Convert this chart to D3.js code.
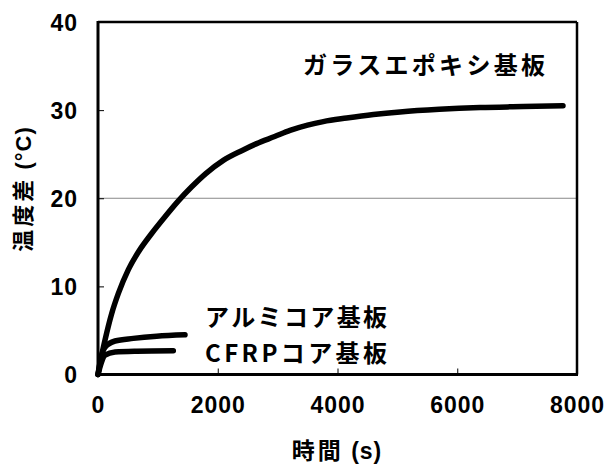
<!DOCTYPE html>
<html><head><meta charset="utf-8">
<script src="https://cdn.jsdelivr.net/npm/d3@7"></script>
<style>body{margin:0;background:#fff}</style>
</head><body>
<svg id="c" width="606" height="466"></svg>
<script>
const xTicks = [0, 2000, 4000, 6000, 8000];
const yTicks = [0, 10, 20, 30, 40];
const glassT = [0, 50, 117, 228, 340, 507, 674, 896, 1119, 1342, 1565, 1800, 2093, 2400, 2650, 2950, 3207, 3500, 3763, 4153, 4600, 5044, 5700, 6380, 7100, 7766];
const glassV = [0, 1.8, 3.9, 6.9, 9.2, 11.9, 13.9, 16.0, 17.9, 19.7, 21.3, 22.8, 24.3, 25.4, 26.2, 27.0, 27.7, 28.3, 28.7, 29.1, 29.5, 29.8, 30.1, 30.3, 30.4, 30.5];
const aluT = [0, 40, 117, 284, 590, 980, 1453];
const aluV = [0, 1.6, 3.1, 3.8, 4.1, 4.35, 4.5];
const cfrpT = [0, 40, 117, 284, 646, 1258];
const cfrpV = [0, 1.0, 2.2, 2.55, 2.65, 2.7];
const labels = ["ガラスエポキシ基板", "アルミコア基板", "CFRPコア基板"];
const xTitle = ["時間", " (s)"];
const yTitle = ["温度差", " (°C)"];

const svg = d3.select("#c");
const L = 98, R = 577, T = 22, B = 374.5;
const x = d3.scaleLinear().domain([0, 8000]).range([L, R]);
const y = d3.scaleLinear().domain([0, 40]).range([B, T]);
const num = "'Liberation Sans', Arial, sans-serif";
const jp = "'Noto Sans CJK JP', sans-serif";

// gridline at 20
svg.append("line").attr("x1", L).attr("x2", R).attr("y1", y(20)).attr("y2", y(20))
  .attr("stroke", "#888").attr("stroke-width", 1);

// axes with inward ticks
const gx = svg.append("g").attr("transform", `translate(0,${B})`)
  .call(d3.axisBottom(x).tickValues(xTicks).tickSize(-6).tickFormat(d => d).tickPadding(22));
gx.select(".domain").remove();
gx.selectAll("line").attr("stroke", "#000").attr("stroke-width", 1);
gx.selectAll("text").attr("font-family", num).attr("font-weight", "bold").attr("font-size", 23)
  .attr("letter-spacing", 1).attr("fill", "#000");

const gy = svg.append("g").attr("transform", `translate(${L},0)`)
  .call(d3.axisLeft(y).tickValues(yTicks).tickSize(-6).tickPadding(20));
gy.select(".domain").remove();
gy.selectAll("line").attr("stroke", "#000").attr("stroke-width", 1);
gy.selectAll("text").attr("font-family", num).attr("font-weight", "bold").attr("font-size", 23)
  .attr("letter-spacing", 1).attr("fill", "#000").attr("dy", "0.36em");

// frame
svg.append("line").attr("x1", L).attr("x2", R).attr("y1", T).attr("y2", T).attr("stroke", "#000").attr("stroke-width", 2.5);
svg.append("line").attr("x1", R).attr("x2", R).attr("y1", T).attr("y2", B).attr("stroke", "#000").attr("stroke-width", 2.5);
svg.append("line").attr("x1", L).attr("x2", L).attr("y1", T - 1).attr("y2", B + 1.5).attr("stroke", "#000").attr("stroke-width", 3);
svg.append("line").attr("x1", L - 1.5).attr("x2", R + 1).attr("y1", B).attr("y2", B).attr("stroke", "#000").attr("stroke-width", 3);

// curves
const line = d3.line().x(d => x(d[0])).y(d => y(d[1])).curve(d3.curveMonotoneX);
[[glassT, glassV], [aluT, aluV], [cfrpT, cfrpV]].forEach(([t, v]) => {
  svg.append("path").datum(t.map((d, i) => [d, v[i]])).attr("d", line)
    .attr("fill", "none").attr("stroke", "#000").attr("stroke-width", 5.5)
    .attr("stroke-linecap", "round").attr("stroke-linejoin", "round");
});

// labels
const lab = [[303, 74, 242], [205, 326, 182], [205, 362, 182]];
labels.forEach((s, i) => {
  svg.append("text").attr("x", lab[i][0]).attr("y", lab[i][1]).text(s)
    .attr("font-family", jp).attr("font-weight", "bold").attr("font-size", 24)
    .attr("textLength", lab[i][2]).attr("lengthAdjust", "spacing").attr("fill", "#000");
});

function title(sel, parts) {
  sel.append("tspan").text(parts[0]).attr("font-family", jp).attr("letter-spacing", 3);
  sel.append("tspan").text(parts[1]).attr("font-family", num).attr("letter-spacing", 1);
}
const xt = svg.append("text").attr("x", 337).attr("y", 459).attr("text-anchor", "middle")
  .attr("font-weight", "bold").attr("font-size", 23).attr("fill", "#000");
title(xt, xTitle);
const yt = svg.append("text").attr("transform", `translate(31,189) rotate(-90)`).attr("text-anchor", "middle")
  .attr("font-weight", "bold").attr("font-size", 22).attr("fill", "#000");
title(yt, yTitle);
</script>
</body></html>
